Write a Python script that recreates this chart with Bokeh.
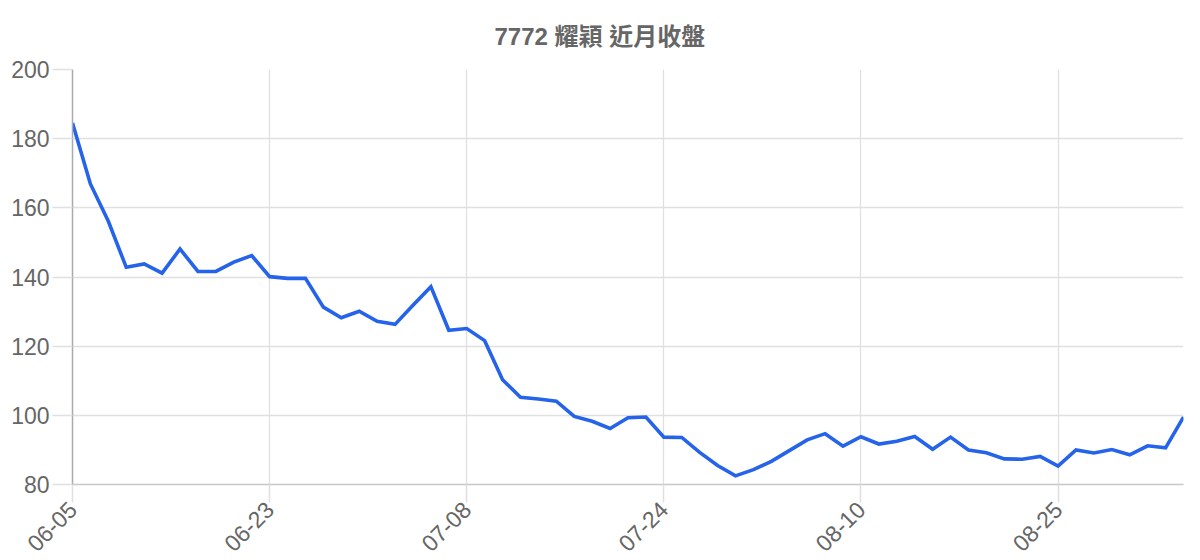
import math
from bokeh.plotting import figure
from bokeh.models import Range1d, FixedTicker, ColumnDataSource
from bokeh.embed import file_html
from bokeh.resources import INLINE

dates = [
    "06-05", "06-06", "06-09", "06-10", "06-11", "06-12", "06-13", "06-16", "06-17", "06-18", "06-19",
    "06-23", "06-24", "06-25", "06-26", "06-27", "06-30", "07-01", "07-02", "07-03", "07-04", "07-07",
    "07-08", "07-09", "07-10", "07-11", "07-14", "07-15", "07-16", "07-17", "07-18", "07-21", "07-22",
    "07-24", "07-25", "07-29", "07-30", "07-31", "08-01", "08-04", "08-05", "08-06", "08-07", "08-08",
    "08-10", "08-11", "08-12", "08-13", "08-14", "08-15", "08-18", "08-19", "08-20", "08-21", "08-22",
    "08-25", "08-26", "08-27", "08-28", "08-29", "09-01", "09-02", "09-03",
]
close = [
    184.5, 166.9, 156.1, 142.8, 143.8, 141.1, 148.1, 141.6, 141.6, 144.3, 146.2,
    140.1, 139.6, 139.6, 131.3, 128.2, 130.1, 127.2, 126.3, 131.8, 137.2, 124.6,
    125.1, 121.6, 110.3, 105.2, 104.7, 104.1, 99.7, 98.3, 96.2, 99.3, 99.5,
    93.7, 93.6, 89.3, 85.5, 82.5, 84.3, 86.7, 89.8, 92.9, 94.7, 91.1,
    93.8, 91.7, 92.5, 93.9, 90.2, 93.7, 90.0, 89.2, 87.4, 87.3, 88.1,
    85.3, 90.0, 89.1, 90.1, 88.6, 91.2, 90.6, 99.5,
]
tick_labels = ["06-05", "06-23", "07-08", "07-24", "08-10", "08-25"]
y_ticks = [80, 100, 120, 140, 160, 180, 200]
title_text = "7772 耀穎 近月收盤"

idx = list(range(len(close)))
tick_pos = [dates.index(t) for t in tick_labels]

src = ColumnDataSource(dict(x=idx, y=close, d=dates))

p = figure(frame_width=1111, frame_height=415, output_backend="svg", toolbar_location=None,
           x_range=Range1d(0, len(close) - 1), y_range=Range1d(80, 200),
           min_border_left=72, min_border_right=9, min_border_top=69, min_border_bottom=20)

p.title.text = title_text
p.title.align = "left"
p.title.text_font = "Liberation Sans, Noto Sans CJK TC"
p.title.text_font_size = "24px"
p.title.text_font_style = "bold"
p.title.text_color = "#666666"
p.title.offset = 422
p.title.standoff = 40

p.line("x", "y", source=src, line_color="#2563eb", line_width=3.6, line_join="miter")

p.outline_line_color = None
p.background_fill_color = "white"
p.border_fill_color = "white"

grid_c = "#e0e0e0"
p.xgrid.grid_line_color = grid_c
p.ygrid.grid_line_color = grid_c
p.xgrid.grid_line_width = 1.3
p.ygrid.grid_line_width = 1.3

xa = p.xaxis[0]
xa.ticker = FixedTicker(ticks=tick_pos)
xa.major_label_overrides = {pos: lab for pos, lab in zip(tick_pos, tick_labels)}
xa.major_label_orientation = math.pi / 4
xa.axis_line_color = "#c8c8c8"
xa.axis_line_width = 1.5
xa.major_tick_line_color = grid_c
xa.major_tick_line_width = 1.5
xa.major_tick_out = 18
xa.major_tick_in = 0
xa.minor_tick_line_color = None
xa.major_label_text_font = "Liberation Sans"
xa.major_label_text_font_size = "23px"
xa.major_label_text_color = "#666666"
xa.major_label_standoff = 3

ya = p.yaxis[0]
ya.ticker = FixedTicker(ticks=y_ticks)
ya.axis_line_color = "#aaaaaa"
ya.axis_line_width = 1.5
ya.major_tick_line_color = grid_c
ya.major_tick_line_width = 1.5
ya.major_tick_out = 20
ya.major_tick_in = 0
ya.minor_tick_line_color = None
ya.major_label_text_font = "Liberation Sans"
ya.major_label_text_font_size = "23px"
ya.major_label_text_color = "#666666"
ya.major_label_standoff = 3

open("out.html", "w").write(file_html(p, INLINE))
